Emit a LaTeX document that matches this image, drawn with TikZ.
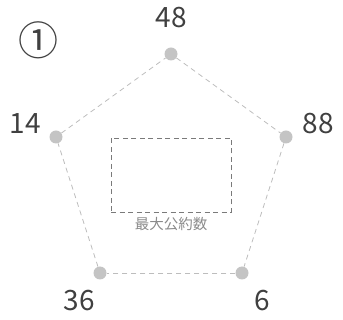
\documentclass[tikz,border=0pt]{standalone}
\usepackage{fontspec}
\setmainfont{Noto Sans CJK JP}
\usetikzlibrary{positioning}
\definecolor{ink}{HTML}{404040}
\definecolor{dotgray}{HTML}{C4C4C4}
\definecolor{linegray}{HTML}{BDBDBD}
\definecolor{boxgray}{HTML}{7A7A7A}
\definecolor{notegray}{HTML}{8A8A8A}
\tikzset{
  vertex/.style={circle,fill=dotgray,inner sep=0pt,minimum size=13pt},
  numlabel/.style={font=\fontsize{28}{28}\selectfont,text=ink,inner sep=0pt},
  edge/.style={draw=linegray,dashed,line width=0.8pt,dash pattern=on 5pt off 4pt},
  gcdbox/.style={draw=boxgray,dashed,line width=0.9pt,dash pattern=on 5pt off 3.5pt,minimum width=120pt,minimum height=74pt,inner sep=0pt},
  smallnote/.style={font=\fontsize{14.5}{14.5}\selectfont,text=notegray,inner sep=0pt}
}
\begin{document}
\begin{tikzpicture}[x=1pt,y=-1pt]
    \useasboundingbox (0,0) rectangle (343,320);
    \node[numlabel,font=\fontsize{40}{40}\selectfont] (mark) at (39,40) {①};
    \node[vertex] (top) at (171,54) {};
    \node[vertex] (left) at (56,137) {};
    \node[vertex] (right) at (286,137) {};
    \node[vertex] (botleft) at (100,273) {};
    \node[vertex] (botright) at (242,273) {};
    \node[numlabel] (ntop) at (171,18) {48};
    \node[numlabel] (nleft) at (25,124) {14};
    \node[numlabel] (nright) at (318,124) {88};
    \node[numlabel] (nbotleft) at (79,301) {36};
    \node[numlabel] (nbotright) at (262,301) {6};
    \draw[edge] (top) -- (right);
    \draw[edge] (right) -- (botright);
    \draw[edge] (botright) -- (botleft);
    \draw[edge] (botleft) -- (left);
    \draw[edge] (left) -- (top);
    \node[gcdbox] (gcd) at (171,175) {};
    \node[smallnote,below=5pt of gcd] (gcdlabel) {最大公約数};
\end{tikzpicture}
\end{document}
